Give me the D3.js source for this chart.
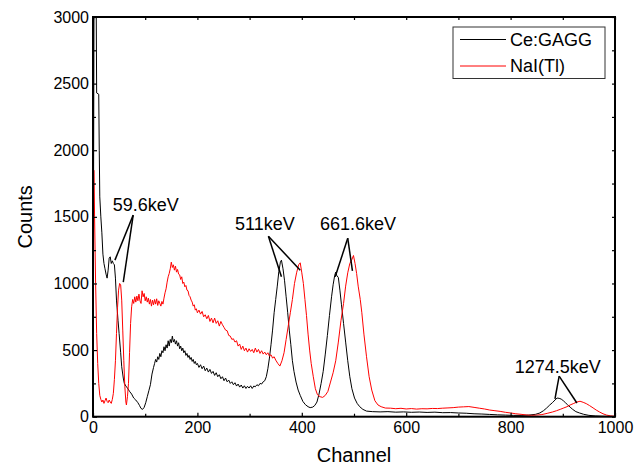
<!DOCTYPE html>
<html>
<head>
<meta charset="utf-8">
<title>Ce:GAGG vs NaI(Tl) spectrum</title>
<script src="https://d3js.org/d3.v7.min.js"></script>
<style>
body { margin: 0; background: #fff; font-family: Arial, "Liberation Sans", sans-serif; }
.axis path { display: none; }
.axis line { stroke: #000; stroke-width: 1.2; }
.axis text { font-size: 16px; fill: #000; font-family: Arial, "Liberation Sans", sans-serif; }
</style>
</head>
<body>
<script>
// channel ranges / ticks
var xTicks = [0, 200, 400, 600, 800, 1000];
var xMinor = [100, 300, 500, 700, 900];
var yTicks = [0, 500, 1000, 1500, 2000, 2500, 3000];
var yMinor = [250, 750, 1250, 1750, 2250, 2750];

var seriesNames = ["Ce:GAGG", "NaI(Tl)"];
var seriesColors = ["#000000", "#ff0000"];

// [channel, counts]
var ceGAGG = [
 [0,0],[2,3200],[6,3200],[7,2430],[11,2420],[12,2000],[13,1650],[15,1500],[17,1380],[19,1220],[21,1150],[23,1110],
 [25,1070],[27,1040],[29,1100],[31,1190],[33,1200],[35,1150],[37,1170],[39,1150],[41,1140],[43,1040],[45,875],
 [48,720],[50,625],[53,480],[55,375],[58,290],[60,250],[63,230],[66,215],[70,190],[74,170],[78,140],[82,125],
 [86,105],[89,85],[92,62],[95,55],[98,70],[101,105],[104,150],[107,195],[110,240],[113,320],[116,370],[118,400],
 [120,430],[122,410],[124,450],[126,430],[128,475],[130,450],[132,495],[134,480],[136,525],[138,495],[140,540],
 [142,515],[144,570],[146,530],[148,580],[150,555],[152,605],[154,560],[156,580],[158,545],[160,570],[162,530],
 [164,555],[166,510],[168,530],[170,495],[172,515],[174,480],[176,495],[178,460],[180,475],[182,445],[184,460],
 [186,430],[188,445],[190,415],[192,430],[194,400],[196,415],[198,390],[200,400],[203,370],[206,390],[209,360],
 [212,380],[215,345],[218,365],[221,335],[224,355],[227,325],[230,340],[233,310],[236,330],[239,300],[242,315],
 [245,285],[248,300],[251,270],[254,290],[257,262],[260,275],[263,250],[266,262],[269,240],[272,255],[275,230],
 [278,245],[281,222],[284,238],[287,215],[290,232],[293,212],[296,228],[299,215],[302,232],[305,212],[308,230],
 [311,225],[314,240],[317,232],[320,250],[323,245],[326,262],[329,270],[332,300],[335,360],[338,440],[341,540],
 [344,650],[347,780],[350,880],[353,980],[356,1090],[359,1160],[361,1175],[364,1110],[367,1020],[370,900],
 [373,780],[376,650],[379,540],[382,420],[385,340],[389,260],[393,200],[397,160],[402,115],[407,90],[412,75],
 [416,68],[421,72],[425,85],[429,110],[433,170],[437,250],[441,340],[445,470],[449,610],[453,760],[457,900],
 [460,990],[463,1060],[465,1085],[467,1060],[470,1045],[473,950],[476,840],[480,700],[484,560],[488,420],
 [492,300],[496,210],[501,140],[506,100],[511,75],[517,55],[524,42],[535,38],[550,36],[565,38],[580,34],[595,36],
 [610,33],[625,35],[640,32],[655,34],[670,30],[685,31],[700,28],[715,26],[730,22],[745,20],[760,17],[775,14],
 [790,12],[805,10],[820,10],[835,12],[848,18],[856,28],[863,45],[869,65],[875,88],[880,105],[885,125],[889,140],
 [893,138],[897,132],[901,120],[905,105],[909,90],[914,72],[919,55],[925,38],[932,28],[940,18],[950,10],[962,6],
 [975,4],[990,2],[1000,2]
];

var naiTl = [
 [0,0],[1,1850],[2,1850],[3,1500],[5,1000],[7,625],[9,400],[11,250],[13,160],[15,130],[17,110],[19,125],
 [21,100],[23,120],[25,140],[27,115],[29,105],[31,125],[33,110],[35,100],[37,130],[39,175],[41,280],[43,420],
 [45,625],[47,820],[49,950],[51,1000],[53,990],[55,875],[57,650],[59,420],[61,225],[63,110],[64,88],[66,150],
 [68,250],[70,480],[72,700],[74,825],[76,880],[78,850],[80,900],[82,860],[84,905],[86,870],[88,920],[90,870],
 [92,850],[94,945],[96,900],[98,925],[100,870],[102,900],[104,860],[106,890],[108,845],[110,880],[112,830],
 [114,875],[116,840],[118,880],[120,845],[122,885],[124,835],[126,870],[128,850],[130,830],[132,865],[134,845],
 [136,890],[138,930],[140,960],[142,1010],[144,1050],[146,1075],[148,1110],[150,1160],[152,1120],[154,1140],
 [156,1100],[158,1130],[160,1085],[162,1105],[164,1070],[166,1065],[168,1030],[170,1050],[172,1000],[174,1010],
 [176,975],[178,985],[180,950],[182,945],[184,910],[186,900],[188,875],[190,860],[192,830],[194,840],[196,800],
 [198,810],[200,780],[203,800],[206,770],[209,790],[212,750],[215,765],[218,735],[221,760],[224,715],[227,740],
 [230,705],[233,740],[236,700],[239,720],[242,680],[245,715],[248,690],[251,670],[254,650],[257,645],[260,610],
 [263,605],[266,580],[269,585],[272,560],[275,570],[278,530],[281,545],[284,505],[287,530],[290,495],[293,515],
 [296,485],[299,510],[302,490],[305,505],[308,480],[311,515],[314,485],[317,505],[320,475],[323,495],[326,470],
 [329,485],[332,465],[335,480],[338,455],[341,465],[344,440],[347,450],[350,425],[354,400],[358,380],[362,420],
 [366,480],[370,580],[374,680],[378,780],[382,880],[386,1000],[390,1080],[394,1140],[397,1155],[400,1080],
 [403,1000],[406,880],[409,760],[412,620],[415,500],[418,400],[422,300],[426,210],[430,165],[435,150],[440,145],
 [445,160],[450,190],[455,260],[460,330],[465,420],[470,560],[475,720],[480,850],[484,980],[488,1080],[492,1150],
 [496,1180],[499,1210],[502,1150],[505,1075],[508,980],[512,880],[515,780],[519,620],[524,450],[529,300],
 [534,200],[540,120],[546,88],[552,75],[560,65],[570,64],[580,60],[590,63],[600,58],[610,61],[620,57],[630,60],
 [640,59],[650,62],[660,61],[670,64],[680,66],[690,68],[700,72],[710,74],[720,76],[730,70],[740,64],[750,58],
 [760,50],[770,45],[780,40],[790,33],[800,28],[810,22],[820,18],[830,13],[840,10],[850,12],[860,16],[870,25],
 [880,35],[888,45],[895,55],[902,66],[908,75],[914,88],[920,98],[927,110],[933,116],[939,108],[945,98],
 [951,84],[958,66],[964,50],[970,36],[977,22],[984,12],[992,6],[1000,3]
];

// annotations: label, text anchor point, vertex, peak ends
var peakLabels = ["59.6keV", "511keV", "661.6keV", "1274.5keV"];
var labelPos = [[38,1543], [272,1400], [435,1400], [808,328]];
var labelVertex = [[77,1513], [336,1355], [488,1340], [893,305]];
var labelEnds = [
 [[42,1175], [58,1010]],
 [[361,1050], [397,1100]],
 [[464,1050], [497,1095]],
 [[885,133], [927,103]]
];

var width = 640, height = 469;
var margin = {left: 93, right: 25, top: 17, bottom: 52.3};

var svg = d3.select("body").append("svg")
  .attr("width", width)
  .attr("height", height);

var x = d3.scaleLinear().domain([0, 1000]).range([margin.left, width - margin.right]);
var y = d3.scaleLinear().domain([0, 3000]).range([height - margin.bottom, margin.top]);

svg.append("clipPath").attr("id", "plotclip")
  .append("rect")
  .attr("x", x(0)).attr("y", y(3000))
  .attr("width", x(1000) - x(0)).attr("height", y(0) - y(3000));

var line = d3.line().x(function(d) { return x(d[0]); }).y(function(d) { return y(d[1]); });

var plot = svg.append("g").attr("clip-path", "url(#plotclip)");
[ceGAGG, naiTl].forEach(function(s, i) {
  plot.append("path")
    .datum(s)
    .attr("fill", "none")
    .attr("stroke", seriesColors[i])
    .attr("stroke-width", 1)
    .attr("stroke-linejoin", "round")
    .attr("d", line);
});

// axes, ticks inward on all four sides
svg.append("g").attr("class", "axis")
  .attr("transform", "translate(0," + y(0) + ")")
  .call(d3.axisBottom(x).tickValues(xTicks).tickSize(-4).tickPadding(5).tickFormat(d3.format("d")));
svg.append("g").attr("class", "axis")
  .attr("transform", "translate(0," + y(0) + ")")
  .call(d3.axisBottom(x).tickValues(xMinor).tickSize(-3).tickFormat(""));
svg.append("g").attr("class", "axis")
  .attr("transform", "translate(0," + y(3000) + ")")
  .call(d3.axisTop(x).tickValues(xTicks.concat(xMinor)).tickSize(-3).tickFormat(""));

svg.append("g").attr("class", "axis")
  .attr("transform", "translate(" + x(0) + ",0)")
  .call(d3.axisLeft(y).tickValues(yTicks).tickSize(-4).tickPadding(4).tickFormat(d3.format("d")));
svg.append("g").attr("class", "axis")
  .attr("transform", "translate(" + x(0) + ",0)")
  .call(d3.axisLeft(y).tickValues(yMinor).tickSize(-3).tickFormat(""));
svg.append("g").attr("class", "axis")
  .attr("transform", "translate(" + x(1000) + ",0)")
  .call(d3.axisRight(y).tickValues(yTicks.concat(yMinor)).tickSize(-3).tickFormat(""));

// frame
svg.append("rect")
  .attr("x", x(0)).attr("y", y(3000))
  .attr("width", x(1000) - x(0)).attr("height", y(0) - y(3000))
  .attr("fill", "none").attr("stroke", "#000").attr("stroke-width", 2);

// axis titles
svg.append("text")
  .attr("x", (x(0) + x(1000)) / 2).attr("y", 462)
  .attr("text-anchor", "middle")
  .style("font-size", "20px")
  .text("Channel");
svg.append("text")
  .attr("transform", "translate(32," + (y(0) + y(3000)) / 2 + ") rotate(-90)")
  .attr("text-anchor", "middle")
  .style("font-size", "20px")
  .text("Counts");

// peak annotations
var ann = svg.append("g");
peakLabels.forEach(function(t, i) {
  ann.append("text")
    .attr("x", x(labelPos[i][0])).attr("y", y(labelPos[i][1]))
    .style("font-size", "18px")
    .text(t);
  labelEnds[i].forEach(function(e) {
    ann.append("line")
      .attr("x1", x(labelVertex[i][0])).attr("y1", y(labelVertex[i][1]))
      .attr("x2", x(e[0])).attr("y2", y(e[1]))
      .attr("stroke", "#000").attr("stroke-width", 1.5);
  });
});

// legend
var lg = svg.append("g").attr("transform", "translate(453,27)");
lg.append("rect")
  .attr("width", 152).attr("height", 51.5)
  .attr("fill", "#fff").attr("stroke", "#333").attr("stroke-width", 1);
seriesNames.forEach(function(n, i) {
  var yy = 12.5 + i * 26.5;
  lg.append("line")
    .attr("x1", 7).attr("x2", 53).attr("y1", yy).attr("y2", yy)
    .attr("stroke", seriesColors[i]).attr("stroke-width", 1);
  lg.append("text")
    .attr("x", 57).attr("y", yy).attr("dy", "0.35em")
    .style("font-size", "18px")
    .text(n);
});
</script>
</body>
</html>
